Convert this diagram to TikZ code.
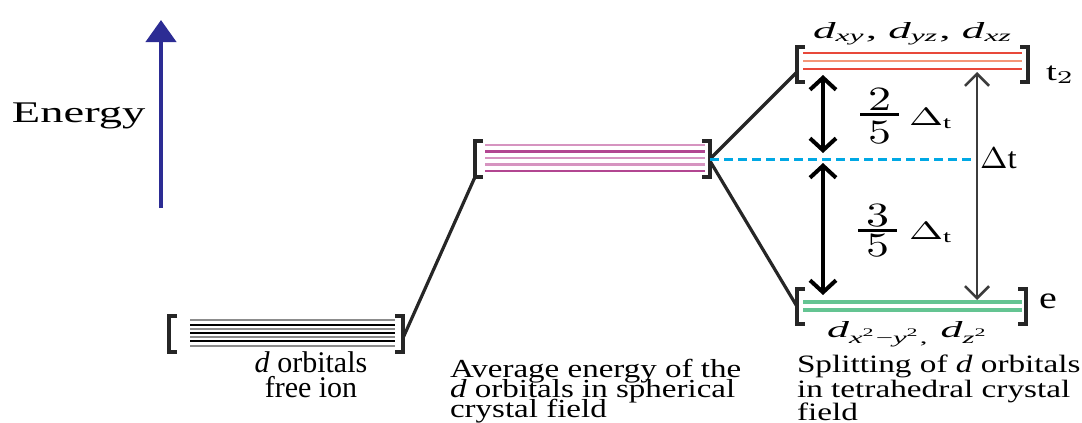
\documentclass[tikz,border=0pt]{standalone}
\usepackage{graphicx}
\usepackage{fontspec}
\setmainfont{Liberation Serif}
\usetikzlibrary{arrows.meta,calc}
\definecolor{enblue}{RGB}{44,44,148}
\definecolor{magd}{RGB}{178,70,145}
\definecolor{magl}{RGB}{214,148,192}
\definecolor{redd}{RGB}{232,72,58}
\definecolor{redl}{RGB}{244,150,120}
\definecolor{grn}{RGB}{100,196,146}
\definecolor{cyn}{RGB}{0,168,228}
\definecolor{gry}{RGB}{140,140,140}
\definecolor{darr}{RGB}{60,60,60}
\newcommand{\fs}[1]{\fontsize{#1}{#1}\selectfont}
\newcommand{\lvlbrackets}[1]{%
  \draw[brk] ([xshift=8pt]#1.north west) -| (#1.south west) -- ([xshift=8pt]#1.south west);
  \draw[brk] ([xshift=-8pt]#1.north east) -| (#1.south east) -- ([xshift=-8pt]#1.south east);}
\begin{document}
\begin{tikzpicture}[x=1pt,y=-1pt,
  lvl/.style={minimum width=#1, minimum height=36pt, inner sep=0pt, outer sep=0pt},
  brk/.style={line width=3.6pt, black!85},
  connln/.style={line width=3.2pt, black!85},
  dashln/.style={line width=3pt, cyn, dash pattern=on 9pt off 5pt},
  dblarr/.style={line width=4pt, {Straight Barb[length=12pt,width=26pt]}-{Straight Barb[length=12pt,width=26pt]}},
  thinarr/.style={line width=2.6pt, darr, {Straight Barb[length=12pt,width=24pt]}-{Straight Barb[length=12pt,width=24pt]}},
  fbar/.style={line width=3.2pt, black},
  txt/.style={inner sep=0pt, outer sep=0pt},
]
\useasboundingbox (0,0) rectangle (1082,423);

% energy axis
\coordinate (eb) at (161,208);
\coordinate (et) at (161,20);
\draw[line width=4.2pt, enblue, -{Triangle[length=22pt,width=30pt]}] (eb) -- (et);
\node[txt, anchor=base west] (en) at (12,122) {\fs{30}\scalebox{1.55}[1]{Energy}};

% levels
\node[lvl=234pt] (free) at (286,334) {};
\node[lvl=235pt] (sph) at (592.5,159) {};
\node[lvl=231pt, minimum height=35pt] (t2) at (912.5,64.5) {};
\node[lvl=229pt, minimum height=35pt] (e) at (911.5,306.5) {};

\foreach \yy/\cc/\ww in {320/gry/2.6, 325/black/1.8, 329/gry/2.6, 333/black/1.8, 337/gry/2.6, 341/black/1.8, 346/gry/2.8}
  \draw[\cc, line width=\ww pt] (190,\yy) -- (395,\yy);
\foreach \yy/\cc in {145/magl, 151.5/magd, 158/magl, 164.5/magl, 171/magd}
  \draw[\cc, line width=2.6pt] (485,\yy) -- (705,\yy);
\foreach \yy/\cc in {53/redd, 61/redl, 69/redd}
  \draw[\cc, line width=2.8pt] (803,\yy) -- (1022,\yy);
\foreach \yy in {302,310}
  \draw[grn, line width=3.2pt] (803,\yy) -- (1022,\yy);

\lvlbrackets{free}
\lvlbrackets{sph}
\lvlbrackets{t2}
\lvlbrackets{e}

% connectors
\draw[connln] ([yshift=-4pt]free.east) -- (sph.south west);
\draw[connln] (sph.east) -- ([yshift=-7.5pt]t2.west);
\draw[connln] ([yshift=-2pt]sph.east) -- (e.west);

% splitting arrows
\coordinate (u1) at (823,75);
\coordinate (u2) at (823,153);
\coordinate (l1) at (823,163);
\coordinate (l2) at (823,295);
\coordinate (r1) at (977,72);
\coordinate (r2) at (977,300);
\draw[dashln] (sph.east) -- (r1 |- sph.east);
\draw[dblarr] (u1) -- (u2);
\draw[dblarr] (l1) -- (l2);
\draw[thinarr] (r1) -- (r2);

% labels
\node[txt, anchor=base west] (t2lab) at (813,38) {\resizebox{200pt}{16pt}{\textit{d}\textsubscript{\textit{xy}}, \textit{d}\textsubscript{\textit{yz}}, \textit{d}\textsubscript{\textit{xz}}}};
\node[txt, anchor=base west] (elab) at (827,337) {\resizebox{163pt}{16pt}{\textit{d}\textsubscript{\textit{x}\textsuperscript{2}−\textit{y}\textsuperscript{2},} \textit{d}\textsubscript{\textit{z}\textsuperscript{2}}}};
\node[txt, anchor=base west] (t2n) at (1046,80) {\scalebox{3.9}[2.6]{$\mathrm{t}_2$}};
\node[txt, anchor=base west] (en2) at (1039,308) {\scalebox{4}[3.1]{$\mathrm{e}$}};
\node[txt, anchor=base west] (dt) at (980,168) {\scalebox{3.3}[3]{$\Delta\mathrm{t}$}};

% fractions
\node[txt, anchor=base] (n1) at (879.5,110) {\scalebox{4.6}[3.4]{$2$}};
\node[txt, anchor=base] (m1) at (879.5,143) {\scalebox{4.6}[3.4]{$5$}};
\draw[fbar] (860,114.5) -- (899,114.5);
\node[txt, anchor=base west] (d1) at (909,125) {\scalebox{4.1}[2.5]{$\Delta_{\mathrm t}$}};
\node[txt, anchor=base] (n2) at (877.5,226) {\scalebox{4.6}[3.4]{$3$}};
\node[txt, anchor=base] (m2) at (877.5,256) {\scalebox{4.6}[3.4]{$5$}};
\draw[fbar] (858,230.5) -- (897,230.5);
\node[txt, anchor=base west] (d2) at (909,239) {\scalebox{4.1}[2.5]{$\Delta_{\mathrm t}$}};

% captions
\node[txt, anchor=base] (fi1) at (311,372) {\fs{30}\textit{d} orbitals};
\node[txt, anchor=base] (fi2) at (311,397) {\fs{30}free ion};
\node[txt, anchor=base west] (av1) at (450,377) {\fs{26}\scalebox{1.27}[1]{Average energy of the}};
\node[txt, anchor=base west] (av2) at (450,397) {\fs{26}\scalebox{1.27}[1]{\textit{d} orbitals in spherical}};
\node[txt, anchor=base west] (av3) at (450,417) {\fs{26}\scalebox{1.27}[1]{crystal field}};
\node[txt, anchor=base west] (sp1) at (797,372) {\fs{25}\scalebox{1.33}[1]{Splitting of \textit{d} orbitals}};
\node[txt, anchor=base west] (sp2) at (797,397) {\fs{25}\scalebox{1.33}[1]{in tetrahedral crystal}};
\node[txt, anchor=base west] (sp3) at (797,420) {\fs{25}\scalebox{1.33}[1]{field}};
\end{tikzpicture}
\end{document}
